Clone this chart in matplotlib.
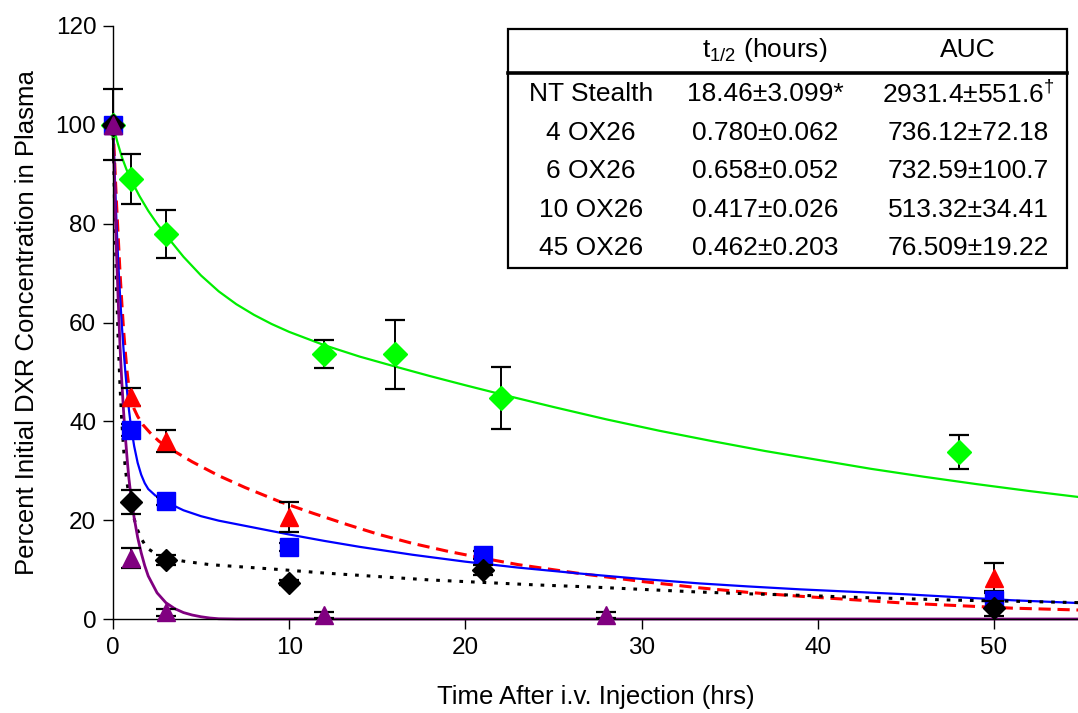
import matplotlib
matplotlib.use("Agg")
import matplotlib.pyplot as plt
from matplotlib.patches import Rectangle
from matplotlib.lines import Line2D

plt.rcParams['font.family'] = ['Liberation Sans', 'DejaVu Sans']
plt.rcParams['mathtext.fontset'] = 'custom'
plt.rcParams['mathtext.rm'] = 'Liberation Sans'
plt.rcParams['mathtext.it'] = 'Liberation Sans:italic'

# ---- measured plasma levels (percent of initial), mean and error ----
stealth_t = [0, 1, 3, 12, 16, 22, 48]
stealth_v = [100, 89.0, 77.9, 53.6, 53.6, 44.7, 33.8]
stealth_e = [7.2, 5.0, 4.8, 2.8, 7.0, 6.3, 3.4]

ox4_t = [0, 1, 3, 10, 50]
ox4_v = [100, 44.9, 36.0, 20.6, 8.3]
ox4_e = [0, 1.8, 2.3, 3.0, 3.0]

ox6_t = [0, 1, 3, 10, 21, 50]
ox6_v = [100, 38.2, 23.9, 14.6, 13.0, 3.9]
ox6_e = [0, 1.2, 0.8, 0.8, 0.8, 1.7]

ox10_t = [0, 1, 3, 10, 21, 50]
ox10_v = [100, 23.7, 11.9, 7.3, 9.9, 2.2]
ox10_e = [0, 2.5, 1.0, 0.5, 1.0, 1.5]

ox45_t = [0, 1, 3, 12, 28]
ox45_v = [100, 12.3, 1.4, 0.8, 0.8]
ox45_e = [0, 2.0, 0.7, 0.6, 0.6]

# ---- fitted elimination curves ----
stealth_fit_t = [0, 0.25, 0.5, 0.75, 1, 1.5, 2, 2.5, 3, 4, 5, 6, 7, 8, 9, 10,
                 12, 14, 16, 18, 20, 22, 25, 28, 31, 34, 37, 40, 43, 46, 49,
                 52, 55]
stealth_fit_v = [100, 96.5, 93.5, 91.1, 89.0, 85.6, 82.6, 80.0, 77.7, 73.3,
                 69.5, 66.3, 63.7, 61.55, 59.7, 58.1, 55.4, 53.1, 51.1, 49.15,
                 47.3, 45.5, 42.9, 40.4, 38.1, 36.0, 34.0, 32.2, 30.4, 28.8,
                 27.3, 25.9, 24.6]

ox4_fit_t = [0, 0.1, 0.2, 0.3, 0.4, 0.5, 0.6, 0.7, 0.8, 0.9, 1.0, 1.2, 1.4,
             1.7, 2.1, 2.6, 3, 3.6, 4.5, 6, 7.5, 9.5, 11.35, 13.3, 15.1, 17,
             19, 21, 23, 26.5, 30, 33.3, 36, 39, 42, 45, 48, 51, 55]
ox4_fit_v = [100, 92, 84, 77, 70, 64, 58.5, 54, 50, 47, 45, 42.5, 41, 39.3,
             37.7, 36, 35, 33.7, 31.8, 29.0, 26.6, 23.7, 21.4, 19.1, 17.1,
             15.3, 13.7, 12.3, 11.0, 9.2, 7.6, 6.3, 5.4, 4.6, 3.9, 3.2, 2.7,
             2.2, 1.8]

ox6_fit_t = [0, 0.1, 0.2, 0.3, 0.4, 0.5, 0.6, 0.7, 0.8, 0.9, 1.0, 1.2, 1.4,
             1.6, 1.8, 2.0, 2.4, 3, 4, 5, 6, 8, 10, 12, 14, 17, 20, 23, 26.5,
             30, 33.3, 36, 39, 42, 45, 48, 51, 55]
ox6_fit_v = [100, 90, 80, 72, 65.5, 59.5, 54.5, 50, 46, 42.5, 39.5, 35, 31.6,
             29.2, 27.5, 26.3, 25.0, 23.7, 22.0, 20.8, 19.9, 18.5, 17.1, 15.8,
             14.6, 13.0, 11.6, 10.4, 9.2, 8.1, 7.2, 6.6, 6.0, 5.5, 5.0, 4.4,
             3.8, 3.2]

ox10_fit_t = [0, 0.1, 0.2, 0.3, 0.4, 0.5, 0.6, 0.7, 0.8, 0.9, 1.0, 1.2, 1.4,
              1.6, 1.8, 2.0, 2.5, 3, 4, 5.5, 7.5, 9.5, 12, 15, 18, 21, 24, 27,
              30, 33, 36, 39, 42, 45, 48, 51, 55]
ox10_fit_v = [100, 82, 67, 56, 47, 40, 34.5, 30.5, 27.5, 25.2, 23.5, 20.3, 18,
              16.3, 15.1, 14.2, 13.0, 12.4, 11.7, 11.0, 10.5, 10.0, 9.3, 8.6,
              7.9, 7.4, 6.9, 6.5, 6.0, 5.5, 5.1, 4.8, 4.4, 4.1, 3.8, 3.6, 3.3]

ox45_fit_t = [0, 0.1, 0.2, 0.3, 0.4, 0.5, 0.6, 0.7, 0.8, 0.9, 1.0, 1.2, 1.4,
              1.6, 1.8, 2.0, 2.5, 3.0, 3.5, 4, 4.5, 5, 5.5, 6, 7, 55]
ox45_fit_v = [100, 86, 74, 64, 55, 48, 42, 37, 32.5, 28.5, 25.5, 20.5, 16.5,
              13.4, 10.8, 8.7, 5.3, 3.3, 2.1, 1.3, 0.8, 0.45, 0.2, 0.05, 0, 0]

# ---- pharmacokinetic summary ----
table_header = ['', r'$\mathregular{t_{1/2}}$ (hours)', 'AUC']
table_groups = ['NT Stealth', '4 OX26', '6 OX26', '10 OX26', '45 OX26']
table_thalf = ['18.46±3.099*', '0.780±0.062', '0.658±0.052', '0.417±0.026',
               '0.462±0.203']
table_auc = [r'2931.4±551.6$\mathregular{^{\dagger}}$', '736.12±72.18',
             '732.59±100.7', '513.32±34.41', '76.509±19.22']

x_ticks = [0, 10, 20, 30, 40, 50]
y_ticks = [0, 20, 40, 60, 80, 100, 120]

W, H = 1078, 713
fig = plt.figure(figsize=(W / 100, H / 100), dpi=100)
ax = fig.add_axes([113 / W, 94 / H, (W - 113) / W, (619 - 26) / H])

# fitted curves (beneath the symbols)
ax.plot(stealth_fit_t, stealth_fit_v, color='#00ee00', lw=1.6, zorder=2,
        clip_on=False)
ax.plot(ox4_fit_t, ox4_fit_v, color='#ff0000', lw=2.2, ls=(0, (4, 2.2)),
        zorder=2, clip_on=False)
ax.plot(ox6_fit_t, ox6_fit_v, color='#0000ff', lw=1.6, zorder=2,
        clip_on=False)
ax.plot(ox10_fit_t, ox10_fit_v, color='black', lw=2.2, ls=(0, (1.2, 2.6)),
        zorder=2, clip_on=False)
ax.plot(ox45_fit_t, ox45_fit_v, color='#800080', lw=2.0, zorder=2,
        clip_on=False)

err_kw = dict(ecolor='black', elinewidth=1.4, capsize=7, capthick=1.6,
              ls='none', clip_on=False)
series = [
    (stealth_t, stealth_v, stealth_e, 'D', '#00ff00', 12.5),
    (ox4_t, ox4_v, ox4_e, '^', '#ff0000', 13.5),
    (ox6_t, ox6_v, ox6_e, 's', '#0000ff', 12.5),
    (ox10_t, ox10_v, ox10_e, 'D', 'black', 11),
    (ox45_t, ox45_v, ox45_e, '^', '#800080', 13.5),
]
z = 3
for t, v, e, mk, col, ms in series:
    ax.errorbar(t, v, yerr=e, zorder=z, **err_kw)
    ax.plot(t, v, ls='none', marker=mk, color=col, ms=ms, mec=col,
            zorder=z + 0.5, clip_on=False)
    z += 1

ax.set_xlim(0, (W - 113) / 176.2 * 10)
ax.set_ylim(0, 120)
ax.set_xticks(x_ticks)
ax.set_yticks(y_ticks)
ax.tick_params(direction='out', length=7, width=1, labelsize=17.5, pad=5,
               color='black')
ax.tick_params(axis='x', pad=6)
for s in ('top', 'right'):
    ax.spines[s].set_visible(False)
for s in ('left', 'bottom'):
    ax.spines[s].set_linewidth(1.0)

ax.set_xlabel('Time After i.v. Injection (hrs)', fontsize=18.5, labelpad=19)
ax.set_ylabel('Percent Initial DXR Concentration in Plasma', fontsize=18.5,
              labelpad=12)

# summary table box
def fx(px):
    return px / W

def fy(py):
    return 1 - py / H

fig.add_artist(Rectangle((fx(508), fy(268)), fx(1067) - fx(508),
                         fy(29) - fy(268), transform=fig.transFigure,
                         fill=True, facecolor='white', edgecolor='black',
                         lw=1.6, zorder=10))
fig.add_artist(Line2D([fx(508), fx(1067)], [fy(73), fy(73)],
                      transform=fig.transFigure, color='black', lw=2.6,
                      zorder=11))

col_x = [591, 765, 968]
hdr_y = 50
row_y = [94, 133, 171, 210, 248]
tfs = 19
for cx, txt in zip(col_x, table_header):
    fig.text(fx(cx), fy(hdr_y), txt, ha='center', va='center', fontsize=tfs,
             zorder=12)
for i, ry in enumerate(row_y):
    fig.text(fx(col_x[0]), fy(ry), table_groups[i], ha='center',
             va='center', fontsize=tfs, zorder=12)
    fig.text(fx(col_x[1]), fy(ry), table_thalf[i], ha='center',
             va='center', fontsize=tfs, zorder=12)
    fig.text(fx(col_x[2]), fy(ry), table_auc[i], ha='center',
             va='center', fontsize=tfs, zorder=12)

fig.savefig('out.png', dpi=100)
